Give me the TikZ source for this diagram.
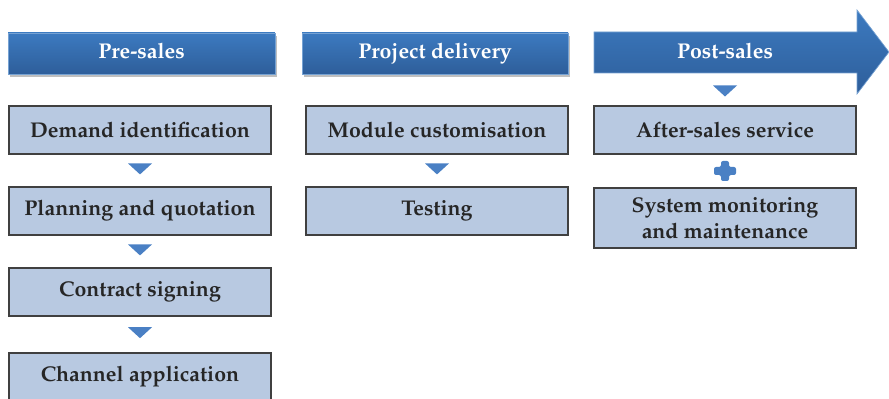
\documentclass[tikz,border=0pt]{standalone}
\usepackage[T1]{fontenc}
\usepackage{mathpazo}
\usetikzlibrary{calc}

\definecolor{hdrtop}{RGB}{60,122,192}
\definecolor{hdrbot}{RGB}{46,94,154}
\definecolor{boxfill}{RGB}{184,201,225}
\definecolor{boxline}{RGB}{64,64,64}
\definecolor{markblue}{RGB}{74,128,196}

\tikzset{
  hdr/.style={minimum width=200pt,minimum height=30.75pt,inner sep=0pt,
    text height=11.5pt,text depth=3.5pt,
    top color=hdrtop,bottom color=hdrbot,draw=hdrtop!70!white,line width=0.5pt,
    text=white,font=\fontsize{16}{19}\selectfont\bfseries},
  stagebox/.style={minimum width=196.5pt,minimum height=36pt,inner sep=0pt,
    fill=boxfill,draw=boxline,line width=0.8pt,align=center,
    text=black!85,font=\fontsize{16}{19}\selectfont\bfseries},
  markfill/.style={fill=markblue}
}

\begin{document}
\begin{tikzpicture}[x=0.75pt,y=-0.75pt]
\clip (0,0) rectangle (889,399);
\useasboundingbox (0,0) rectangle (889,399);

% headers
\fill[black!25] (10,36) rectangle (277,77);
\fill[black!25] (304,36) rectangle (570,77);
\node[hdr] (pre) at (141.5,53.5) {Pre-sales};
\node[hdr,minimum width=199.5pt] (proj) at (435,53.5) {Project delivery};
\shade[top color=hdrtop,bottom color=hdrbot,draw=hdrtop!70!white,line width=0.5pt]
  (594,32) -- (857,32) -- (857,10) -- (889,52) -- (857,94) -- (857,73) -- (594,73) -- cycle;
\node[text=white,font=\fontsize{16}{19}\selectfont\bfseries,text height=11.5pt,text depth=3.5pt,inner sep=0pt] (post) at (725,53.5) {Post-sales};

% pre-sales column
\node[stagebox] (dem) at (140,130) {Demand identification};
\node[stagebox] (plan) at (140,211) {Planning and quotation};
\node[stagebox] (con) at (140,292) {Contract signing};
\node[stagebox] (chan) at (140,377) {Channel application};

% project delivery column
\node[stagebox] (mod) at (437,130) {Module customisation};
\node[stagebox] (test) at (437,211) {Testing};

% post-sales column
\node[stagebox] (aft) at (725,130) {After-sales service};
\node[stagebox,minimum height=45pt] (sys) at (725,218) {System monitoring\\and maintenance};

% down markers
\foreach \a/\b in {dem/plan,plan/con,con/chan,mod/test}{
  \fill[markfill] ($(\a.south)!0.45!(\b.north)$) +(-12,-5.5) -- +(12,-5.5) -- +(0,5.5) -- cycle;
}
\fill[markfill] (725,91) +(-12,-5.5) -- +(12,-5.5) -- +(0,5.5) -- cycle;

% plus
\path (aft.south) -- (sys.north) coordinate[midway] (plus);
\fill[markfill,rounded corners=1.5pt] (plus) +(-11,-4) -- +(-4,-4) -- +(-4,-10) -- +(4,-10) -- +(4,-4)
  -- +(11,-4) -- +(11,4) -- +(4,4) -- +(4,10) -- +(-4,10) -- +(-4,4) -- +(-11,4) -- cycle;
\end{tikzpicture}
\end{document}
